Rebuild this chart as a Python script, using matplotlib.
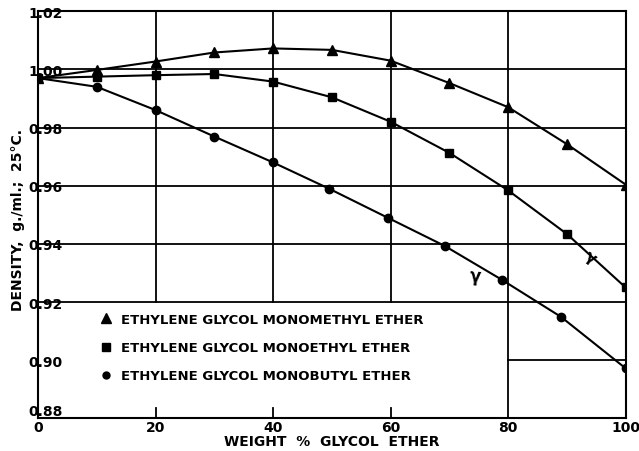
import matplotlib
matplotlib.use("Agg")
import matplotlib.pyplot as plt
from matplotlib.lines import Line2D

# weight % glycol ether
pct = [0, 10, 20, 30, 40, 50, 60, 70, 80, 90, 100]

# density, g./ml. at 25 C
methyl = [0.997, 0.9998, 1.0027, 1.0058, 1.0072, 1.0067, 1.0030, 0.9953, 0.9870, 0.9743, 0.9604]
ethyl = [0.997, 0.9975, 0.9980, 0.9984, 0.9958, 0.9904, 0.9820, 0.9713, 0.9584, 0.9434, 0.9250]
butyl_pct = [0, 10, 20, 30, 40, 49.5, 59.5, 69.2, 78.9, 89, 100]
butyl = [0.997, 0.9940, 0.9860, 0.9769, 0.9680, 0.9590, 0.9490, 0.9393, 0.9277, 0.9149, 0.8972]

labels = ["ETHYLENE GLYCOL MONOMETHYL ETHER",
          "ETHYLENE GLYCOL MONOETHYL ETHER",
          "ETHYLENE GLYCOL MONOBUTYL ETHER"]

xticks = [0, 20, 40, 60, 80, 100]
yticks = [0.88, 0.90, 0.92, 0.94, 0.96, 0.98, 1.00, 1.02]

plt.rcParams['font.family'] = 'DejaVu Sans'
plt.rcParams['font.weight'] = 'bold'

fig = plt.figure(figsize=(6.39, 4.52), dpi=100)
ax = fig.add_axes([0.0595, 0.0723, 0.9195, 0.9007])
ax.set_xlim(0, 100)
ax.set_ylim(0.88, 1.02)

lw = 1.3
# grid: full horizontal lines above 0.92, partial below
for y in [0.92, 0.94, 0.96, 0.98, 1.00]:
    ax.axhline(y, color='black', lw=lw, zorder=1)
ax.axhline(0.90, xmin=0.8, xmax=1.0, color='black', lw=lw, zorder=1)
for x in [20, 40, 60]:
    ax.axvline(x, ymin=2 / 7, ymax=1.0, color='black', lw=lw, zorder=1)
    ax.axvline(x, ymin=0, ymax=0.025, color='black', lw=lw, zorder=1)
ax.axvline(80, color='black', lw=lw, zorder=1)

for s in ax.spines.values():
    s.set_linewidth(1.5)

ax.plot(pct, methyl, color='black', lw=1.5, marker='^', ms=7.5, zorder=3)
ax.plot(pct, ethyl, color='black', lw=1.5, marker='s', ms=6, zorder=3)
ax.plot(butyl_pct, butyl, color='black', lw=1.5, marker='o', ms=6, zorder=3)

# small hand marks on the curves
ax.text(74.4, 0.929, 'γ', fontsize=12, ha='center', va='center', rotation=-5)
ax.text(94, 0.9355, 'γ', fontsize=11, ha='center', va='center', rotation=-35)

handles = [Line2D([], [], color='black', ls='none', marker=m, ms=s)
           for m, s in [('^', 6.5), ('s', 5.5), ('o', 5)]]
ax.legend(handles, labels, loc='upper left', bbox_to_anchor=(0.093, 0.275),
          frameon=False, fontsize=9.5, handletextpad=0.65, labelspacing=1.15,
          handlelength=1.0, borderpad=0)

ax.set_xticks(xticks)
ax.set_xticklabels([str(v) for v in xticks], fontsize=10)
ax.set_yticks(yticks)
ax.set_yticklabels(['%.2f' % v for v in yticks], fontsize=10)
ax.tick_params(length=0)
ax.tick_params(axis='x', pad=1)
ax.tick_params(axis='y', pad=-17.5)
for t, v in zip(ax.get_yticklabels(), yticks):
    t.set_horizontalalignment('right')
    if v == 0.88:
        t.set_verticalalignment('bottom')

ax.set_xlabel('WEIGHT  %  GLYCOL  ETHER', fontsize=10, fontweight='bold', labelpad=0)
ax.set_ylabel('DENSITY,  g./ml.;  25°C.', fontsize=10, fontweight='bold')
ax.yaxis.set_label_coords(-0.022, 0.49)

fig.savefig('out.png', dpi=100)
